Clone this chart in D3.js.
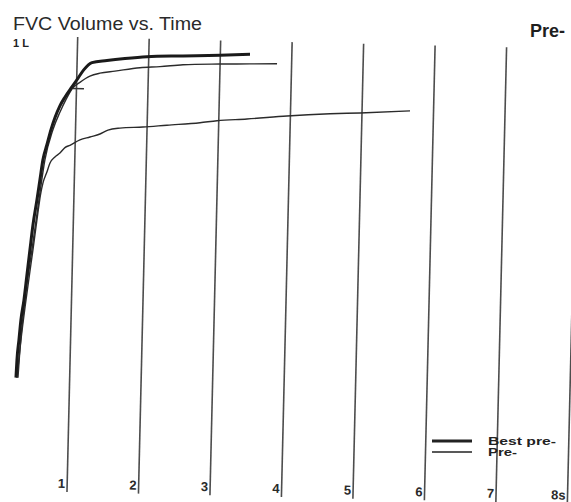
<!DOCTYPE html>
<html>
<head>
<meta charset="utf-8">
<script src="https://cdn.jsdelivr.net/npm/d3@7"></script>
<style>
  html, body { margin: 0; padding: 0; background: #fff; }
  svg { display: block; }
  text { font-family: "Liberation Sans", Arial, Helvetica, sans-serif; }
</style>
</head>
<body>
<svg id="chart" width="571" height="502"></svg>
<script>
// Time grid, one line per second
const seconds = [1, 2, 3, 4, 5, 6, 7, 8];
const secondLabels = ["1", "2", "3", "4", "5", "6", "7", "8s"];

// Best pre-bronchodilator effort: [time s, volume L]
const bestPre = [
  [0.256, 0.00], [0.264, 0.22], [0.285, 0.47], [0.306, 0.72], [0.342, 0.97],
  [0.376, 1.29], [0.409, 1.60], [0.443, 1.91], [0.491, 2.23], [0.526, 2.48],
  [0.561, 2.73], [0.612, 2.92], [0.664, 3.11], [0.715, 3.26], [0.781, 3.41],
  [0.848, 3.52], [0.943, 3.65], [1.024, 3.76], [1.105, 3.87], [1.215, 3.96],
  [1.424, 3.99], [1.675, 4.02], [1.982, 4.05], [2.485, 4.07], [3.003, 4.09],
  [3.422, 4.11]
];

// Second pre-bronchodilator effort
const preTrialA = [
  [0.284, 0.00], [0.302, 0.35], [0.356, 0.97], [0.437, 1.60], [0.519, 2.23],
  [0.589, 2.73], [0.691, 3.11], [0.783, 3.33], [0.863, 3.49], [0.957, 3.64],
  [1.053, 3.71], [1.191, 3.79], [1.330, 3.83], [1.539, 3.86], [1.888, 3.91],
  [2.167, 3.93], [2.488, 3.96], [3.005, 3.98], [3.425, 3.99], [3.803, 4.00]
];

// Third pre-bronchodilator effort
const preTrialB = [
  [0.270, 0.00], [0.313, 0.47], [0.370, 0.97], [0.451, 1.60], [0.505, 2.04],
  [0.538, 2.29], [0.569, 2.44], [0.621, 2.58], [0.660, 2.69], [0.728, 2.77],
  [0.797, 2.82], [0.865, 2.89], [0.934, 2.92], [1.072, 2.99], [1.211, 3.03],
  [1.350, 3.07], [1.461, 3.12], [1.628, 3.15], [1.949, 3.17], [2.284, 3.20],
  [2.745, 3.24], [2.982, 3.27], [3.401, 3.30], [3.960, 3.35], [4.560, 3.39],
  [4.980, 3.41], [5.678, 3.45]
];

// Start-of-test mark on the curve
const startMark = [1.0, 3.63];

const legendItems = [
  { label: "Best pre-", width: 3, textWidth: 68 },
  { label: "Pre-", width: 1.4, textWidth: 29 }
];

const svg = d3.select("#chart");

// Printed paper is slightly skewed, so the plot frame is turned a little
const plot = svg.append("g").attr("transform", "rotate(1.35, 285, 260)");

const x = d3.scaleLinear().domain([0, 8]).range([0.5, 572.5]);
const y = d3.scaleLinear().domain([0, 5]).range([384, -16]);

const gridTop = 42, gridBottom = 497;

// Second grid lines drawn as axis ticks
const axis = d3.axisBottom(x)
  .tickValues(seconds)
  .tickSize(gridBottom - gridTop)
  .tickFormat((d, i) => secondLabels[i]);

const axisG = plot.append("g")
  .attr("transform", `translate(0,${gridTop})`)
  .call(axis);
axisG.select(".domain").remove();
axisG.selectAll(".tick line")
  .attr("stroke", "#4d4d4d")
  .attr("stroke-width", 1.6);
axisG.selectAll(".tick text")
  .attr("x", -2)
  .attr("y", 451)
  .attr("dy", 0)
  .attr("text-anchor", "end")
  .attr("fill", "#2a2a2a")
  .style("font-size", "13px")
  .style("font-weight", "bold")
  .style("font-family", "'Liberation Sans', Arial, sans-serif");

const line = d3.line()
  .x(d => x(d[0]))
  .y(d => y(d[1]))
  .curve(d3.curveMonotoneX);

plot.append("path").datum(preTrialB)
  .attr("d", line).attr("fill", "none")
  .attr("stroke", "#2b2b2b").attr("stroke-width", 1.4)
  .attr("stroke-linejoin", "round");

plot.append("path").datum(preTrialA)
  .attr("d", line).attr("fill", "none")
  .attr("stroke", "#2b2b2b").attr("stroke-width", 1.4)
  .attr("stroke-linejoin", "round");

plot.append("path").datum(bestPre)
  .attr("d", line).attr("fill", "none")
  .attr("stroke", "#1a1a1a").attr("stroke-width", 3)
  .attr("stroke-linejoin", "round");

plot.append("line")
  .attr("x1", x(startMark[0]) - 3).attr("x2", x(startMark[0]) + 8)
  .attr("y1", y(startMark[1])).attr("y2", y(startMark[1]))
  .attr("stroke", "#333").attr("stroke-width", 1.4);

// Header texts
svg.append("text")
  .attr("x", 13).attr("y", 30)
  .attr("textLength", 189).attr("lengthAdjust", "spacingAndGlyphs")
  .attr("fill", "#2a2a2a")
  .style("font-size", "18px")
  .text("FVC Volume vs. Time");

svg.append("text")
  .attr("x", 13).attr("y", 47)
  .attr("fill", "#222")
  .style("font-size", "11px").style("font-weight", "bold")
  .text("1 L");

svg.append("text")
  .attr("x", 530).attr("y", 37)
  .attr("fill", "#1e1e1e")
  .style("font-size", "18px").style("font-weight", "bold")
  .text("Pre-");

// Legend
const legend = svg.append("g").attr("transform", "translate(432,441)");
legendItems.forEach((item, i) => {
  const g = legend.append("g").attr("transform", `translate(0,${i * 11})`);
  g.append("line")
    .attr("x1", 0).attr("x2", 40)
    .attr("y1", 0).attr("y2", 0)
    .attr("stroke", "#222").attr("stroke-width", item.width);
  g.append("text")
    .attr("x", 56).attr("y", 4)
    .attr("textLength", item.textWidth).attr("lengthAdjust", "spacingAndGlyphs")
    .attr("fill", "#222")
    .style("font-size", "10px").style("font-weight", "bold")
    .text(item.label);
});
</script>
</body>
</html>
